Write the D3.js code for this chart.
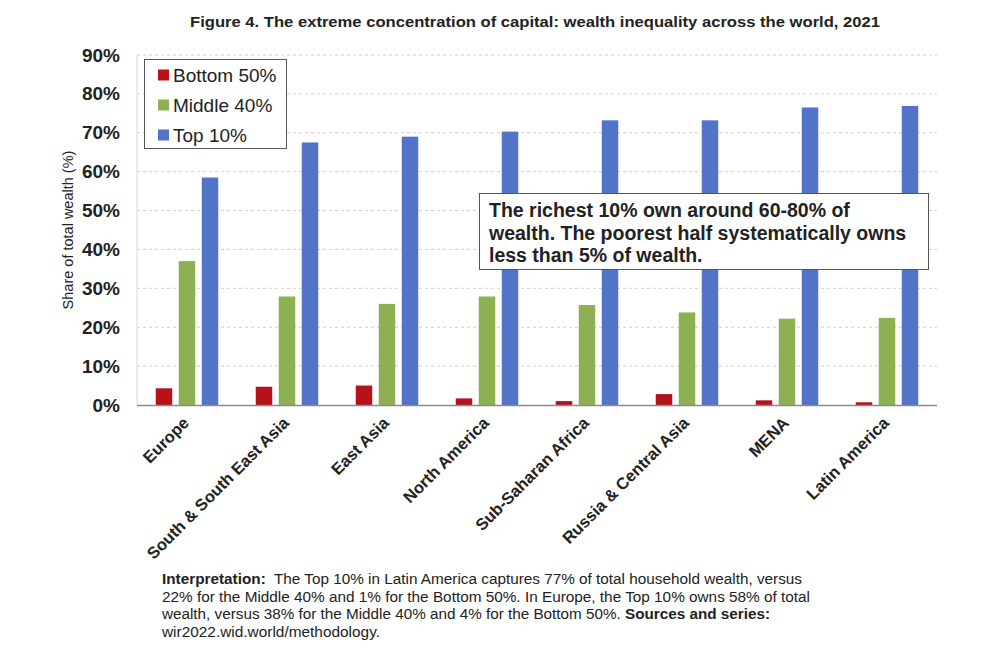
<!DOCTYPE html>
<html>
<head>
<meta charset="utf-8">
<script src="https://cdn.jsdelivr.net/npm/d3@7"></script>
<style>
  body { margin: 0; background: #fff; }
  svg { font-family: "Liberation Sans", Arial, Helvetica, sans-serif; }
</style>
</head>
<body>
<svg id="chart" width="990" height="660"></svg>
<script>
const categories = ["Europe", "South & South East Asia", "East Asia", "North America",
  "Sub-Saharan Africa", "Russia & Central Asia", "MENA", "Latin America"];
const seriesNames = ["Bottom 50%", "Middle 40%", "Top 10%"];
const bottom50 = [4.3, 4.7, 5.0, 1.7, 1.0, 2.8, 1.2, 0.7];
const middle40 = [37.0, 27.9, 26.0, 27.9, 25.7, 23.8, 22.2, 22.4];
const top10 = [58.5, 67.5, 69.0, 70.3, 73.2, 73.2, 76.5, 76.9];
const yTicks = [0, 10, 20, 30, 40, 50, 60, 70, 80, 90];
const colors = ["#B5121B", "#8DB152", "#5173C8"];

const title = "Figure 4. The extreme concentration of capital: wealth inequality across the world, 2021";
const yLabel = "Share of total wealth (%)";
const note = ["The richest 10% own around 60-80% of",
  "wealth. The poorest half systematically owns",
  "less than 5% of wealth."];

(function () {
const svg = d3.select("#chart");
const pLeft = 137, pRight = 937, pTop = 55, pBottom = 405;

const x = d3.scaleBand().domain(categories).range([pLeft, pRight]).paddingInner(0).paddingOuter(0);
const xs = d3.scaleBand().domain(seriesNames).range([18.75, 81.25]).paddingInner(0.283).paddingOuter(0);
const y = d3.scaleLinear().domain([0, 90]).range([pBottom, pTop]);

// gridlines
svg.append("g").selectAll("line").data(yTicks.filter(d => d > 0)).join("line")
  .attr("x1", pLeft).attr("x2", pRight)
  .attr("y1", d => y(d)).attr("y2", d => y(d))
  .attr("stroke", "#cfcfcf").attr("stroke-width", 1).attr("stroke-dasharray", "3,3");

// left axis line
svg.append("line").attr("x1", pLeft).attr("x2", pLeft).attr("y1", pTop).attr("y2", pBottom)
  .attr("stroke", "#d4d4d4").attr("stroke-width", 1);

// y axis labels
const yAxis = d3.axisLeft(y).tickValues(yTicks).tickFormat(d => d + "%").tickSize(0).tickPadding(17);
const ya = svg.append("g").attr("transform", `translate(${pLeft},0)`).call(yAxis);
ya.select(".domain").remove();
ya.selectAll("text").attr("font-size", "19px").attr("font-weight", "bold").attr("fill", "#222")
  .attr("font-family", "Liberation Sans, Arial, sans-serif");

// bars
const data = [bottom50, middle40, top10];
const groups = svg.append("g").selectAll("g").data(categories).join("g")
  .attr("transform", d => `translate(${x(d)},0)`);
groups.selectAll("rect").data((c, i) => seriesNames.map((s, k) => ({ s, k, v: data[k][i] }))).join("rect")
  .attr("x", d => xs(d.s)).attr("width", xs.bandwidth())
  .attr("y", d => y(d.v)).attr("height", d => y(0) - y(d.v))
  .attr("fill", d => colors[d.k]);

// x axis line
svg.append("line").attr("x1", pLeft).attr("x2", pRight).attr("y1", pBottom + 0.5).attr("y2", pBottom + 0.5)
  .attr("stroke", "#8a8a8a").attr("stroke-width", 1.5);

// x labels
const xAxis = d3.axisBottom(x).tickSize(0).tickPadding(0);
const xa = svg.append("g").attr("transform", `translate(0,${pBottom})`).call(xAxis);
xa.select(".domain").remove();
xa.selectAll("text")
  .attr("font-size", "16.5px").attr("font-weight", "bold").attr("fill", "#222")
  .attr("font-family", "Liberation Sans, Arial, sans-serif")
  .attr("text-anchor", "end").attr("dy", null).attr("y", 0)
  .attr("transform", "translate(3,19) rotate(-45)");

// y label
svg.append("text").attr("transform", "translate(73,230) rotate(-90)")
  .attr("text-anchor", "middle").attr("font-size", "14.5px").attr("fill", "#222").text(yLabel);

// title
svg.append("text").attr("x", 190).attr("y", 27).attr("font-size", "15.5px").attr("font-weight", "bold")
  .attr("fill", "#222").attr("textLength", 690).attr("lengthAdjust", "spacingAndGlyphs").text(title);

// legend
const lg = svg.append("g");
lg.append("rect").attr("x", 144.5).attr("y", 59.5).attr("width", 142).attr("height", 89)
  .attr("fill", "#fff").attr("stroke", "#555").attr("stroke-width", 1);
seriesNames.forEach((s, k) => {
  const cy = 75 + k * 30;
  lg.append("rect").attr("x", 158).attr("y", cy - 5.5).attr("width", 11).attr("height", 11).attr("fill", colors[k]);
  lg.append("text").attr("x", 173).attr("y", cy + 7).attr("font-size", "19px").attr("fill", "#222").text(s);
});

// annotation
const an = svg.append("g");
an.append("rect").attr("x", 479.5).attr("y", 193.5).attr("width", 449).attr("height", 76)
  .attr("fill", "#fff").attr("stroke", "#555").attr("stroke-width", 1);
note.forEach((t, i) => {
  an.append("text").attr("x", 489).attr("y", 217 + i * 22.5).attr("font-size", "19.5px")
    .attr("font-weight", "bold").attr("fill", "#222").text(t);
});

// footer
const foot = [
  { parts: [["Interpretation:", true], ["  The Top 10% in Latin America captures 77% of total household wealth, versus", false]], w: 640 },
  { parts: [["22% for the Middle 40% and 1% for the Bottom 50%. In Europe, the Top 10% owns 58% of total", false]], w: 648 },
  { parts: [["wealth, versus 38% for the Middle 40% and 4% for the Bottom 50%. ", false], ["Sources and series:", true]], w: 608 },
  { parts: [["wir2022.wid.world/methodology.", false]], w: 218 }
];
foot.forEach((l, i) => {
  const t = svg.append("text").attr("x", 162).attr("y", 584 + i * 17.7).attr("font-size", "14px")
    .attr("fill", "#222").attr("textLength", l.w).attr("lengthAdjust", "spacingAndGlyphs")
    .attr("xml:space", "preserve").style("white-space", "pre");
  l.parts.forEach(p => t.append("tspan").attr("font-weight", p[1] ? "bold" : "normal").text(p[0]));
});
})();
</script>
</body>
</html>
